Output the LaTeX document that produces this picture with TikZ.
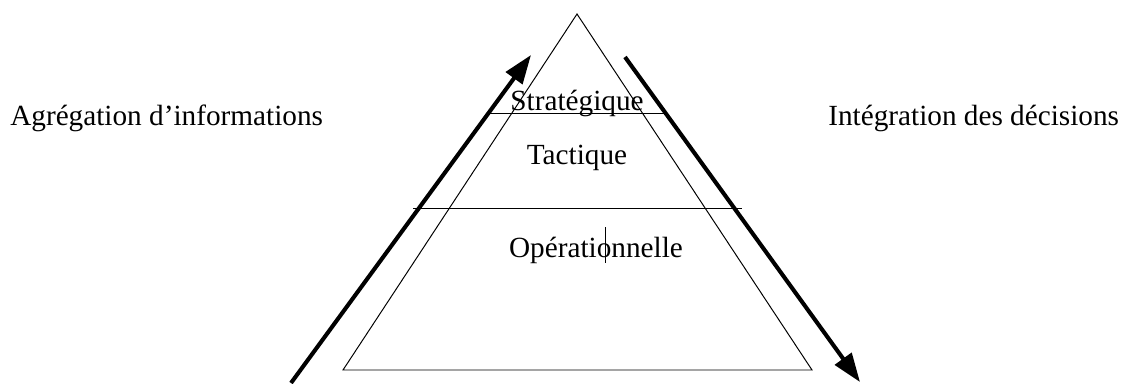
\documentclass[tikz,border=0pt]{standalone}
\usepackage{fontspec}
\setmainfont{Liberation Serif}
\usetikzlibrary{arrows.meta, positioning, calc}

\begin{document}
\begin{tikzpicture}[
    x=0.025cm, y=-0.025cm,
    >={Triangle[length=0.72cm, width=0.5cm]},
    edge/.style={line width=0.7pt},
    flow/.style={->, line width=2.9pt},
    label/.style={font=\fontsize{20.8}{24}\selectfont, inner sep=0pt}
]
\useasboundingbox (0,0) rectangle (1140,383);

% === Pyramide ===
\coordinate (apex) at (577,14);
\coordinate (bl) at (343,370);
\coordinate (br) at (812,370);
\draw[edge] (apex) -- (bl) -- (br) -- cycle;

% Niveaux
\coordinate (s1) at (490,113);
\coordinate (s2) at (667,113);
\coordinate (t1) at (413,208);
\coordinate (t2) at (742,208);
\draw[edge] (s1) -- (s2);
\draw[edge] (t1) -- (t2);

\node[label, anchor=base] (strat) at (577,110) {Stratégique};
\node[label, anchor=base] (tact) at (577,164) {Tactique};
\node[label, anchor=base] (oper) at (596,257) {Opérationnelle};
\draw[line width=0.6pt] (605,227) -- (605,263);

% === Flux ===
\coordinate (up0) at (291,383);
\coordinate (up1) at (531,55);
\coordinate (dn0) at (625,57);
\coordinate (dn1) at (860,382);
\draw[flow] (up0) -- (up1);
\draw[flow] (dn0) -- (dn1);

\node[label, anchor=base west] (agreg) at (10,125) {Agrégation d’informations};
\node[label, anchor=base west] (integ) at (828,125) {Intégration des décisions};

\end{tikzpicture}
\end{document}
